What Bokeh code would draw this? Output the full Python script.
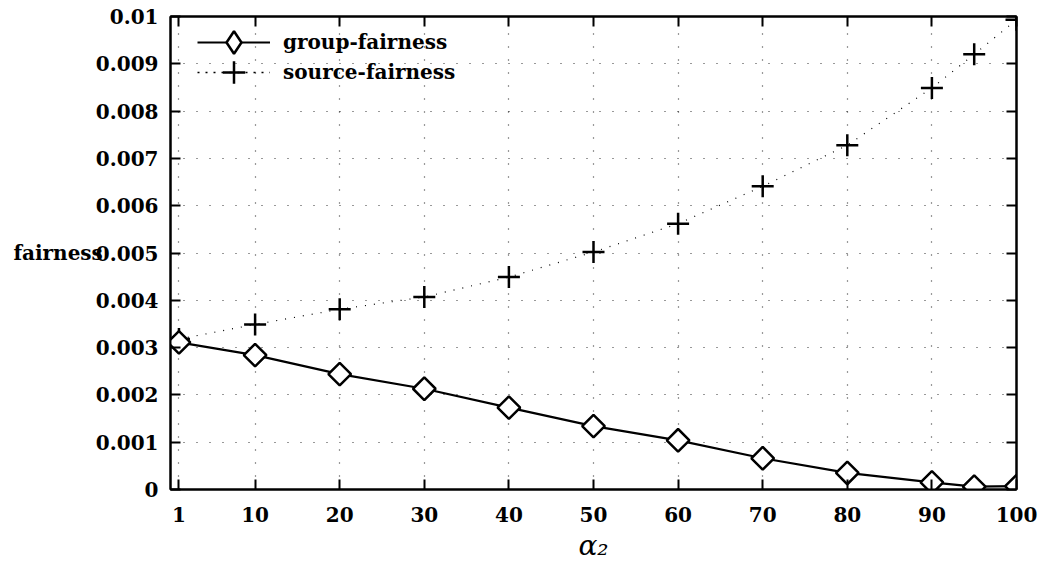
from bokeh.plotting import figure
from bokeh.models import (LinearAxis, FixedTicker, Range1d, Legend, LegendItem,
                          Label, CustomJSTickFormatter)
from bokeh.embed import file_html
from bokeh.resources import INLINE

alpha2 = [1, 10, 20, 30, 40, 50, 60, 70, 80, 90, 95, 100]
group_fairness = [0.00311, 0.00284, 0.00244, 0.00213, 0.00173, 0.00134,
                  0.00104, 0.00066, 0.00035, 0.00015, 0.00006, 0.00007]
source_fairness = [0.00318, 0.00349, 0.00381, 0.00407, 0.00449, 0.00502,
                   0.00562, 0.00641, 0.00728, 0.00849, 0.00920, 0.00993]
x_ticks = [1, 10, 20, 30, 40, 50, 60, 70, 80, 90, 100]
y_ticks = [0, 0.001, 0.002, 0.003, 0.004, 0.005, 0.006, 0.007, 0.008, 0.009, 0.01]
y_tick_labels = ["0", "0.001", "0.002", "0.003", "0.004", "0.005", "0.006",
                 "0.007", "0.008", "0.009", "0.01"]

FONT = "DejaVu Serif"

p = figure(width=1050, height=564, output_backend="svg", toolbar_location=None,
           x_range=Range1d(0, 100), y_range=Range1d(0, 0.01),
           min_border_left=170, min_border_right=34, min_border_top=16,
           min_border_bottom=70)
p.background_fill_color = "white"
p.border_fill_color = "white"
p.outline_line_color = "black"
p.outline_line_width = 2

p.xaxis.ticker = FixedTicker(ticks=x_ticks)
p.yaxis.ticker = FixedTicker(ticks=y_ticks)
p.yaxis.major_label_overrides = {v: s for v, s in zip(y_ticks, y_tick_labels)}

for ax in [p.xaxis[0], p.yaxis[0]]:
    ax.axis_line_width = 2
    ax.axis_line_color = "black"
    ax.major_tick_in = 10
    ax.major_tick_out = 0
    ax.major_tick_line_width = 2
    ax.minor_tick_line_color = None
    ax.major_label_text_font = FONT
    ax.major_label_text_font_style = "bold"
    ax.major_label_text_font_size = "20px"
    ax.major_label_text_color = "black"

p.xaxis.major_label_standoff = 17
p.yaxis.major_label_standoff = 12
p.xaxis.axis_label = "α₂"
p.xaxis.axis_label_text_font = FONT
p.xaxis.axis_label_text_font_style = "italic"
p.xaxis.axis_label_text_font_size = "28px"
p.xaxis.axis_label_text_color = "black"
p.xaxis.axis_label_standoff = 4

yax = p.yaxis[0]
if "axis_label_orientation" in yax.properties():
    yax.axis_label = "fairness"
    yax.axis_label_orientation = "horizontal"
    yax.axis_label_text_font = FONT
    yax.axis_label_text_font_style = "bold"
    yax.axis_label_text_font_size = "20px"
    yax.axis_label_text_color = "black"
    yax.axis_label_standoff = -10
else:
    p.add_layout(Label(x=13, y=0.005, x_units="screen", y_units="data",
                       text="fairness", text_font=FONT, text_font_style="bold",
                       text_font_size="20px", text_baseline="middle",
                       text_align="left", text_color="black"))

blank = CustomJSTickFormatter(code="return ''")
top = LinearAxis(ticker=FixedTicker(ticks=x_ticks), formatter=blank)
right = LinearAxis(ticker=FixedTicker(ticks=y_ticks), formatter=blank)
for ax in [top, right]:
    ax.axis_line_width = 2
    ax.major_tick_in = 10
    ax.major_tick_out = 0
    ax.major_tick_line_width = 2
    ax.minor_tick_line_color = None
    ax.major_label_standoff = 0
p.add_layout(top, "above")
p.add_layout(right, "right")

for g in [p.xgrid[0], p.ygrid[0]]:
    g.grid_line_color = "black"
    g.grid_line_dash = "1 12"
    g.grid_line_width = 1.2
    g.grid_line_alpha = 0.8

sl = p.line(alpha2, source_fairness, line_color="black", line_width=1.2,
            line_dash="1 8")
sm = p.scatter(alpha2, source_fairness, marker="cross", size=22,
               line_color="black", line_width=2.5)
gl = p.line(alpha2, group_fairness, line_color="black", line_width=2.2)
gm = p.scatter(alpha2, group_fairness, marker="square", angle=0.785398, size=16,
               line_color="black", fill_color="white", line_width=2.5)

# hidden renderers that only supply the legend's marker shapes
leg_d = p.scatter(alpha2, group_fairness, marker="diamond", line_color="black",
                  fill_color="white", line_width=2.5, visible=False)
leg_l = p.line(alpha2, source_fairness, line_color="black", line_width=1.6,
               line_dash="2 6", visible=False)


def make_legend(label, renderers, loc):
    lg = Legend(items=[LegendItem(label=label, renderers=renderers)], location=loc)
    lg.padding = 0
    lg.spacing = 0
    lg.margin = 0
    lg.label_height = 56
    lg.glyph_height = 56
    lg.glyph_width = 73
    lg.label_standoff = 13
    lg.border_line_color = None
    lg.background_fill_alpha = 0
    lg.inactive_fill_alpha = 0
    lg.label_text_font = FONT
    lg.label_text_font_style = "bold"
    lg.label_text_font_size = "20px"
    lg.label_text_color = "black"
    return lg


p.add_layout(make_legend("group-fairness", [gl, leg_d], (27, 419)), "center")
p.add_layout(make_legend("source-fairness", [leg_l, sm], (27, 389)), "center")

open("out.html", "w").write(file_html(p, INLINE))
